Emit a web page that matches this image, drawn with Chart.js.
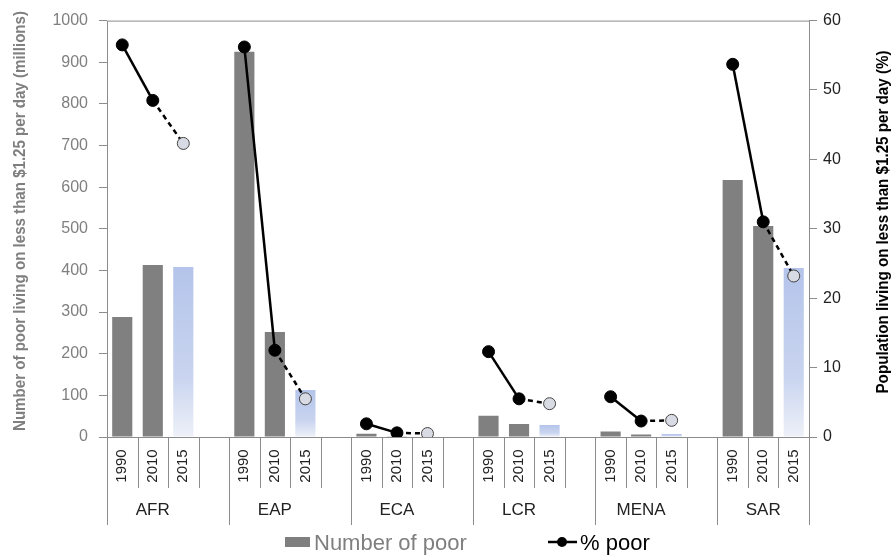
<!DOCTYPE html>
<html>
<head>
<meta charset="utf-8">
<script src="https://cdn.jsdelivr.net/npm/chart.js@4/dist/chart.umd.min.js"></script>
<style>
  html, body { margin: 0; padding: 0; background: #fff; }
  #wrap { width: 894px; height: 555px; }
</style>
</head>
<body>
<div id="wrap"><canvas id="myChart" width="894" height="555"></canvas></div>
<script>
// Regions and years
const regions = ['AFR', 'EAP', 'ECA', 'LCR', 'MENA', 'SAR'];
const years = ['1990', '2010', '2015'];

// Number of poor (millions), per region: 1990, 2010, 2015
const poorAFR = [288, 413, 408];
const poorEAP = [925, 252, 113];
const poorECA = [8, 2, 1];
const poorLCR = [51, 31, 29];
const poorMENA = [13, 6, 7];
const poorSAR = [617, 507, 406];

// % poor, per region: 1990, 2010, 2015
const pctAFR = [56.5, 48.5, 42.3];
const pctEAP = [56.2, 12.5, 5.5];
const pctECA = [1.9, 0.6, 0.5];
const pctLCR = [12.3, 5.5, 4.8];
const pctMENA = [5.8, 2.3, 2.4];
const pctSAR = [53.7, 31.0, 23.2];

const poorByRegion = [poorAFR, poorEAP, poorECA, poorLCR, poorMENA, poorSAR];
const pctByRegion = [pctAFR, pctEAP, pctECA, pctLCR, pctMENA, pctSAR];

// flatten with an empty slot between regions
const labels = [];
const poorData = [];
const pctData = [];
regions.forEach((r, ri) => {
    years.forEach((y, yi) => {
        labels.push(y);
        poorData.push(poorByRegion[ri][yi]);
        pctData.push(pctByRegion[ri][yi]);
    });
    if (ri < regions.length - 1) {
        labels.push('');
        poorData.push(null);
        pctData.push(null);
    }
});

const isProjection = (i) => labels[i] === '2015';
const sans = '"Liberation Sans", Arial, sans-serif';

// draw a vertical text squeezed to a given length (the original uses a narrow font)
function verticalTitle(ctx, text, cx, cy, len, color) {
    ctx.save();
    ctx.font = 'bold 16px ' + sans;
    ctx.fillStyle = color;
    ctx.textAlign = 'center';
    ctx.textBaseline = 'middle';
    const w = ctx.measureText(text).width;
    ctx.translate(cx, cy);
    ctx.rotate(-Math.PI / 2);
    ctx.scale(len / w, 1);
    ctx.fillText(text, 0, 0);
    ctx.restore();
}

// multi-level x axis, border, axis titles and legend
const decorPlugin = {
    id: 'decor',
    afterDraw(chart) {
        const ctx = chart.ctx;
        const area = chart.chartArea;
        const xs = chart.scales.x;
        const slot = (area.right - area.left) / labels.length;
        ctx.save();
        ctx.strokeStyle = '#8c8c8c';
        ctx.lineWidth = 1;
        ctx.strokeRect(area.left + 0.5, area.top + 0.5, area.right - area.left, area.bottom - area.top);

        // separators
        for (let i = 0; i <= labels.length; i++) {
            const x = Math.round(area.left + i * slot) + 0.5;
            const long = (i % 4 === 0) || i === labels.length;
            ctx.beginPath();
            ctx.moveTo(x, area.bottom);
            ctx.lineTo(x, area.bottom + (long ? 88 : 51));
            ctx.stroke();
        }

        // year labels
        ctx.fillStyle = '#222';
        ctx.font = '15px ' + sans;
        ctx.textAlign = 'center';
        ctx.textBaseline = 'middle';
        labels.forEach((lab, i) => {
            if (!lab) return;
            const x = xs.getPixelForValue(i);
            ctx.save();
            ctx.translate(x, area.bottom + 29);
            ctx.rotate(-Math.PI / 2);
            ctx.fillText(lab, 0, 0);
            ctx.restore();
        });

        // region labels
        ctx.font = '17px ' + sans;
        regions.forEach((r, ri) => {
            const x = xs.getPixelForValue(ri * 4 + 1);
            ctx.fillText(r, x, area.bottom + 73);
        });

        // axis titles
        verticalTitle(ctx, 'Number of poor living on less than $1.25 per day (millions)', 21, 221, 420, '#7f7f7f');
        verticalTitle(ctx, 'Population living on less than $1.25 per day (%)', 884, 222, 343, '#000');

        // legend
        ctx.fillStyle = '#7f7f7f';
        ctx.fillRect(285, 537, 25, 10);
        ctx.font = '22px ' + sans;
        ctx.textAlign = 'left';
        ctx.textBaseline = 'alphabetic';
        ctx.fillText('Number of poor', 314, 550);
        ctx.strokeStyle = '#000';
        ctx.lineWidth = 2.5;
        ctx.beginPath();
        ctx.moveTo(548, 542);
        ctx.lineTo(577, 542);
        ctx.stroke();
        ctx.fillStyle = '#000';
        ctx.beginPath();
        ctx.arc(562, 542, 5, 0, Math.PI * 2);
        ctx.fill();
        ctx.fillText('% poor', 580, 550);
        ctx.restore();
    }
};

function barColor(context) {
    const i = context.dataIndex;
    if (!isProjection(i)) return 'rgb(128,128,128)';
    const chart = context.chart;
    const area = chart.chartArea;
    if (!area) return '#b8c7ea';
    const v = context.raw;
    const top = chart.scales.y.getPixelForValue(v);
    const g = chart.ctx.createLinearGradient(0, top, 0, area.bottom);
    g.addColorStop(0, '#b4c4ea');
    g.addColorStop(0.65, '#c9d4ef');
    g.addColorStop(1, '#eef1f8');
    return g;
}

new Chart(document.getElementById('myChart').getContext('2d'), {
    data: {
        labels: labels,
        datasets: [
            {
                type: 'line',
                label: '% poor',
                data: pctData,
                yAxisID: 'y1',
                borderColor: '#000',
                borderWidth: 2.5,
                pointRadius: 6,
                pointHoverRadius: 6,
                pointBackgroundColor: pctData.map((v, i) => isProjection(i) ? '#d8dbe4' : '#000'),
                pointBorderColor: pctData.map((v, i) => isProjection(i) ? '#444' : '#000'),
                pointBorderWidth: 1,
                spanGaps: false,
                segment: {
                    borderDash: (c) => isProjection(c.p1DataIndex) ? [5, 4] : undefined,
                },
                order: 0,
            },
            {
                type: 'bar',
                label: 'Number of poor',
                data: poorData,
                yAxisID: 'y',
                backgroundColor: barColor,
                categoryPercentage: 1,
                barPercentage: 0.66,
                order: 1,
            },
        ],
    },
    options: {
        responsive: false,
        animation: false,
        layout: { padding: { top: 20, left: 0, right: 0, bottom: 0 } },
        plugins: {
            legend: { display: false },
            tooltip: { enabled: false },
        },
        scales: {
            x: {
                type: 'category',
                offset: true,
                ticks: { display: false },
                grid: { display: false },
                border: { display: false },
                afterFit: (s) => { s.height = 118; },
            },
            y: {
                position: 'left',
                min: 0,
                max: 1000,
                ticks: {
                    stepSize: 100, color: '#7f7f7f', padding: 11,
                    font: { size: 16, family: sans },
                    callback: (v) => String(v),
                },
                grid: { drawOnChartArea: false, tickLength: 8, color: '#8c8c8c' },
                border: { display: false },
                afterFit: (s) => { s.width = 107; },
            },
            y1: {
                position: 'right',
                min: 0,
                max: 60,
                ticks: { stepSize: 10, color: '#222', padding: 6, font: { size: 16, family: sans } },
                grid: { drawOnChartArea: false, tickLength: 8, color: '#8c8c8c' },
                border: { display: false },
                afterFit: (s) => { s.width = 85; },
            },
        },
    },
    plugins: [decorPlugin],
});
</script>
</body>
</html>
